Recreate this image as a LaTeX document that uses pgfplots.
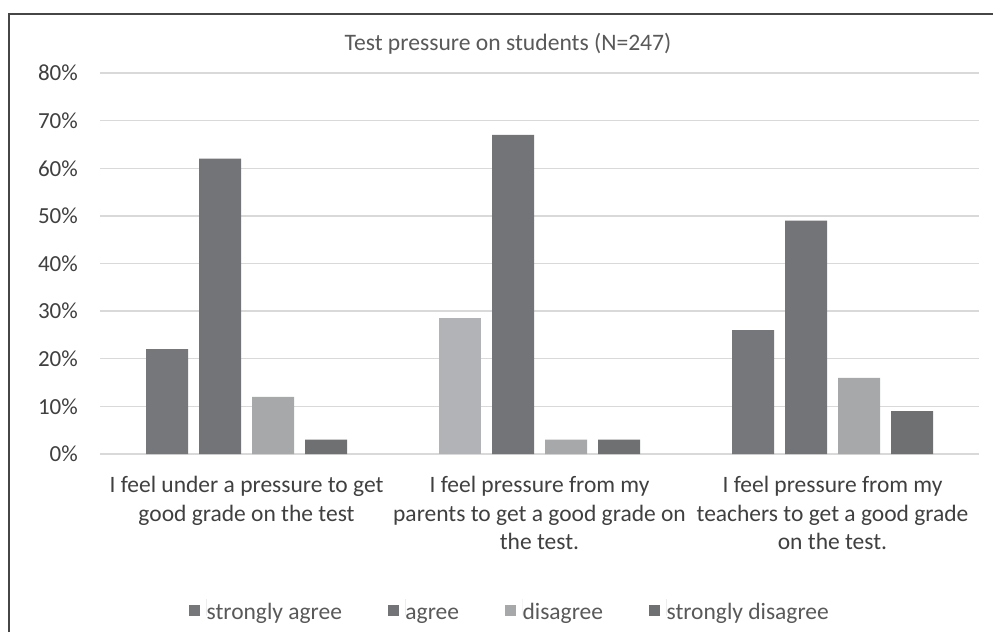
\documentclass[border=0pt]{standalone}
\usepackage{pgfplots}
\pgfplotsset{compat=1.18}
\usepackage{fontspec}
\setmainfont{Carlito}
\definecolor{saC}{RGB}{118,119,123}
\definecolor{agC}{RGB}{115,116,120}
\definecolor{diC}{RGB}{166,168,170}
\definecolor{sdC}{RGB}{111,112,113}
\definecolor{saLight}{RGB}{178,179,182}
\definecolor{gridC}{RGB}{217,217,217}
\definecolor{frameC}{RGB}{70,70,70}
\definecolor{tickC}{RGB}{64,64,64}
\definecolor{titleC}{RGB}{89,89,89}
\begin{document}
\begin{tikzpicture}[x=1pt,y=1pt]
\useasboundingbox (0,0) rectangle (993,632);
\fill[white] (0,0) rectangle (993,632);
\draw[line width=2.2pt, color=frameC] (9,0) -- (9,618) -- (993,618);
\node[font=\fontsize{23.6}{28}\selectfont, text=titleC, anchor=base] at (508,581) {Test pressure on students (N=247)};
\begin{axis}[
  at={(100pt,178pt)}, anchor=south west,
  scale only axis, width=879pt, height=381pt,
  xmin=-0.5, xmax=2.5, ymin=0, ymax=80,
  ybar, bar width=42pt,
  axis line style={draw=none},
  ymajorgrids, grid style={color=gridC, line width=1.3pt},
  ytick={0,10,...,80},
  /pgf/number format/assume math mode=true,
  yticklabel={\pgfmathprintnumber{\tick}\%},
  xtick={0,1,2},
  xticklabels={{I feel under a pressure to get\\good grade on the test},
                {I feel pressure from my\\parents to get a good grade on\\the test.},
                {I feel pressure from my\\teachers to get a good grade\\on the test.}},
  major tick length=0pt,
  tick style={draw=none},
  yticklabel style={font=\fontsize{23}{27}\selectfont, text=tickC, inner sep=0pt, anchor=east, xshift=-22pt},
  xticklabel style={font=\fontsize{23.5}{28.7}\selectfont, text=tickC, align=center, inner sep=0pt, anchor=north, yshift=-22pt},
  legend columns=4,
  legend style={at={(0.4653,-0.4094)}, anchor=center, draw=none, fill=none, inner sep=0pt,
     nodes={inner sep=0pt},
     font=\fontsize{23.5}{28}\selectfont, text=titleC,
     /tikz/every odd column/.append style={column sep=0pt},
     /tikz/every even column/.append style={column sep=46pt}},
  legend image code/.code={\fill[#1] (0pt,-5.3pt) rectangle (11pt,5.3pt); \path (17.5pt,-5.3pt) -- (17.5pt,11pt);},
]
\addplot[fill=saC, draw=none, bar shift=-79.5pt] coordinates {(0,22) (2,26)};
\addlegendentry{\strut strongly agree}
\addplot[fill=agC, draw=none, bar shift=-26.5pt] coordinates {(0,62) (1,67) (2,49)};
\addlegendentry{\strut agree}
\addplot[fill=diC, draw=none, bar shift=26.5pt] coordinates {(0,12) (1,3) (2,16)};
\addlegendentry{\strut disagree}
\addplot[fill=sdC, draw=none, bar shift=79.5pt] coordinates {(0,3) (1,3) (2,9)};
\addlegendentry{\strut strongly disagree}
\addplot[fill=saLight, draw=none, bar shift=-79.5pt, forget plot] coordinates {(1,28.6)};
\end{axis}
\end{tikzpicture}
\end{document}
